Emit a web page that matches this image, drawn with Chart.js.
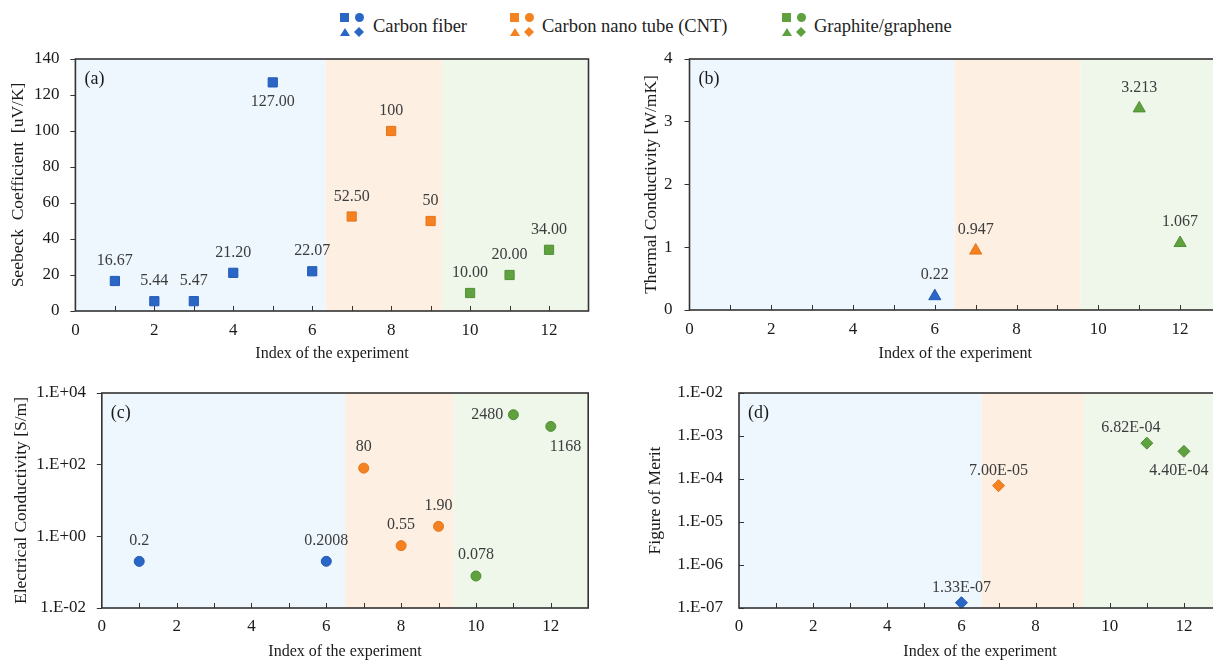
<!DOCTYPE html>
<html><head><meta charset="utf-8">
<script src="https://cdn.jsdelivr.net/npm/chart.js@4.4.0/dist/chart.umd.min.js"></script>
<style>
html,body{margin:0;padding:0;background:#fff;width:1213px;height:660px;overflow:hidden;position:relative;}
canvas{position:absolute;display:block;}
#legend{position:absolute;left:0;top:0;width:1213px;height:45px;font-family:"Liberation Serif",serif;font-size:18.5px;color:#222;}
.ic{position:absolute;width:9px;height:9px;}
.ci{border-radius:50%;}
.tr{width:10px;height:8px;clip-path:polygon(50% 0,100% 100%,0 100%);}
.di{width:10px;height:10px;clip-path:polygon(50% 0,100% 50%,50% 100%,0 50%);}
.lt{position:absolute;top:15px;line-height:22px;white-space:nowrap;}
</style>
</head><body>
<div id="legend"></div>
<canvas id="ca" width="600" height="320" style="left:0;top:45px;width:600px;height:320px"></canvas>
<canvas id="cb" width="630" height="320" style="left:600px;top:45px;width:630px;height:320px"></canvas>
<canvas id="cc" width="600" height="285" style="left:0;top:378px;width:600px;height:285px"></canvas>
<canvas id="cd" width="630" height="285" style="left:600px;top:378px;width:630px;height:285px"></canvas>
<script>
// ---------- data ----------
const groups = ["Carbon fiber", "Carbon nano tube (CNT)", "Graphite/graphene"];
const xTicks = [0, 2, 4, 6, 8, 10, 12];
const minorX = [1, 2, 3, 4, 5, 6, 7, 8, 9, 10, 11, 12];

// (a) Seebeck coefficient
const seebeckFiberX = [1, 2, 3, 4, 5, 6];
const seebeckFiber = [16.67, 5.44, 5.47, 21.20, 127.00, 22.07];
const seebeckFiberText = ["16.67", "5.44", "5.47", "21.20", "127.00", "22.07"];
const seebeckCntX = [7, 8, 9];
const seebeckCnt = [52.50, 100, 50];
const seebeckCntText = ["52.50", "100", "50"];
const seebeckGrX = [10, 11, 12];
const seebeckGr = [10.00, 20.00, 34.00];
const seebeckGrText = ["10.00", "20.00", "34.00"];
const seebeckTicks = [0, 20, 40, 60, 80, 100, 120, 140];
const seebeckRegions = [0, 6.34, 9.31, 13];

// (b) Thermal conductivity
const thermalFiberX = [6];
const thermalFiber = [0.22];
const thermalFiberText = ["0.22"];
const thermalCntX = [7];
const thermalCnt = [0.947];
const thermalCntText = ["0.947"];
const thermalGrX = [11, 12];
const thermalGr = [3.213, 1.067];
const thermalGrText = ["3.213", "1.067"];
const thermalTicks = [0, 1, 2, 3, 4];
const thermalRegions = [0, 6.48, 9.56, 13];

// (c) Electrical conductivity
const elecFiberX = [1, 6];
const elecFiber = [0.2, 0.2008];
const elecFiberText = ["0.2", "0.2008"];
const elecCntX = [7, 8, 9];
const elecCnt = [80, 0.55, 1.90];
const elecCntText = ["80", "0.55", "1.90"];
const elecGrX = [10, 11, 12];
const elecGr = [0.078, 2480, 1168];
const elecGrText = ["0.078", "2480", "1168"];
const elecTicks = [1e-2, 1e0, 1e2, 1e4];
const elecTickText = ["1.E-02", "1.E+00", "1.E+02", "1.E+04"];
const elecRegions = [0, 6.5, 9.4, 13];

// (d) Figure of merit
const meritFiberX = [6];
const meritFiber = [1.33e-7];
const meritFiberText = ["1.33E-07"];
const meritCntX = [7];
const meritCnt = [7.00e-5];
const meritCntText = ["7.00E-05"];
const meritGrX = [11, 12];
const meritGr = [6.82e-4, 4.40e-4];
const meritGrText = ["6.82E-04", "4.40E-04"];
const meritTicks = [1e-7, 1e-6, 1e-5, 1e-4, 1e-3, 1e-2];
const meritTickText = ["1.E-07", "1.E-06", "1.E-05", "1.E-04", "1.E-03", "1.E-02"];
const meritRegions = [0, 6.54, 9.31, 13];

// ---------- styles ----------
const SERIF = '"Liberation Serif", "Times New Roman", serif';
const FILL = ['#2A66C6', '#F58220', '#5FA03F'];
const EDGE = ['#2159B4', '#E8731A', '#528F35'];
const BG = ['#EEF7FD', '#FDEFE2', '#EEF7EA'];

// legend
(function () {
  const lg = document.getElementById('legend');
  const pos = [[340, 373], [510, 542], [782, 814]];
  groups.forEach((g, i) => {
    const [ix, tx] = pos[i];
    const shapes = [['sq', ix, 13], ['ci', ix + 15, 13], ['tr', ix, 28], ['di', ix + 14, 27]];
    shapes.forEach(([c, l, t]) => {
      const d = document.createElement('div');
      d.className = 'ic ' + c; d.style.left = l + 'px'; d.style.top = t + 'px'; d.style.background = FILL[i];
      lg.appendChild(d);
    });
    const s = document.createElement('div');
    s.className = 'lt'; s.style.left = tx + 'px'; s.textContent = g;
    lg.appendChild(s);
  });
})();

const panelPlugin = {
  id: 'panel',
  beforeDatasetsDraw(chart, args, o) {
    const { ctx, chartArea: { left, right, top, bottom }, scales: { x, y } } = chart;
    ctx.save();
    for (let i = 0; i < o.regions.length - 1; i++) {
      const x0 = x.getPixelForValue(o.regions[i]);
      const x1 = x.getPixelForValue(o.regions[i + 1]);
      ctx.fillStyle = BG[i];
      ctx.fillRect(x0, top, x1 - x0, bottom - top);
    }
    ctx.strokeStyle = '#333'; ctx.lineWidth = 1;
    ctx.beginPath();
    minorX.forEach(v => { const px = Math.round(x.getPixelForValue(v)) + 0.5; ctx.moveTo(px, bottom); ctx.lineTo(px, bottom - 5); });
    if (o.yInside) y.ticks.forEach(t => { const py = Math.round(y.getPixelForValue(t.value)) + 0.5; ctx.moveTo(left, py); ctx.lineTo(left + 5, py); });
    ctx.stroke();
    ctx.restore();
  },
  afterDatasetsDraw(chart, args, o) {
    const { ctx, chartArea: { left, right, top, bottom } } = chart;
    ctx.save();
    ctx.strokeStyle = '#333'; ctx.lineWidth = 1.6;
    ctx.strokeRect(left, top, right - left, bottom - top);
    ctx.font = '16px ' + SERIF;
    ctx.fillStyle = '#3c3c3c';
    ctx.textBaseline = 'middle';
    chart.data.datasets.forEach((ds, i) => {
      const meta = chart.getDatasetMeta(i);
      meta.data.forEach((pt, j) => {
        const s = ds.texts[j];
        const p = (ds.places && ds.places[j]) || 'above';
        let tx = pt.x, ty = pt.y, al = 'center';
        if (p === 'above') ty -= o.up;
        else if (p === 'below') ty += o.down;
        else if (p === 'left') { tx -= 10; al = 'right'; }
        else if (p === 'belowRight') { ty += o.down; al = 'left'; tx -= 1; }
        else if (p === 'aboveLeft') { ty -= o.up; tx -= 16; }
        else if (p === 'belowLeft') { ty += o.down; tx -= 5; }
        ctx.textAlign = al;
        ctx.fillText(s, tx, ty);
      });
    });
    ctx.fillStyle = '#1a1a1a';
    ctx.font = '18px ' + SERIF;
    ctx.textAlign = 'left';
    ctx.fillText(o.letter, left + 9, top + 20);
    ctx.restore();
  }
};

function makeDatasets(xs, ys, texts, places, style, radius) {
  return xs.map((xa, g) => ({
    label: groups[g],
    data: xa.map((xv, k) => ({ x: xv, y: ys[g][k] })),
    texts: texts[g],
    places: places[g],
    pointStyle: style,
    pointRadius: radius,
    backgroundColor: FILL[g],
    borderColor: EDGE[g],
    borderWidth: 1,
    showLine: false,
    clip: false
  }));
}

function makeChart(id, cfg) {
  const xAxis = {
    type: 'linear', min: 0, max: 13, position: 'bottom',
    afterBuildTicks: s => { s.ticks = xTicks.map(v => ({ value: v })); },
    afterFit: s => { s.height = cfg.xH; s.paddingLeft = 0; s.paddingRight = 0; },
    grid: { display: true, drawOnChartArea: false, drawTicks: false },
    border: { display: false },
    ticks: { font: { family: SERIF, size: 17 }, color: '#1a1a1a', padding: cfg.xPad, maxRotation: 0, autoSkip: false },
    title: { display: true, text: 'Index of the experiment', font: { family: SERIF, size: 16 }, color: '#1a1a1a', padding: { top: 0, bottom: cfg.xTitlePad } }
  };
  const yAxis = {
    type: cfg.yType, min: cfg.yMin, max: cfg.yMax, position: 'left',
    afterBuildTicks: s => { s.ticks = cfg.yTicks.map(v => ({ value: v })); },
    afterFit: s => { s.width = cfg.yW; s.paddingTop = 0; s.paddingBottom = 0; },
    grid: { display: true, drawOnChartArea: false, drawTicks: !cfg.yInside, tickLength: 5, color: '#333' },
    border: { display: false },
    ticks: {
      font: { family: SERIF, size: 17 }, color: '#1a1a1a', padding: cfg.yPad, autoSkip: false,
      callback: (v) => cfg.yTickText ? cfg.yTickText[cfg.yTicks.indexOf(v)] : String(v)
    },
    title: { display: true, text: cfg.yTitle, font: { family: SERIF, size: 17.5 }, color: '#1a1a1a', padding: { top: cfg.yTitlePad, bottom: 0 } }
  };
  return new Chart(document.getElementById(id), {
    type: 'scatter',
    data: { datasets: cfg.datasets },
    options: {
      responsive: false, animation: false, events: [], devicePixelRatio: 1,
      layout: { padding: { left: 0, right: cfg.padR, top: cfg.padT, bottom: 0 } },
      scales: { x: xAxis, y: yAxis },
      plugins: {
        legend: { display: false }, tooltip: { enabled: false },
        panel: { regions: cfg.regions, letter: cfg.letter, up: cfg.up, down: cfg.down, yInside: cfg.yInside }
      }
    },
    plugins: [panelPlugin]
  });
}

makeChart('ca', {
  datasets: makeDatasets([seebeckFiberX, seebeckCntX, seebeckGrX], [seebeckFiber, seebeckCnt, seebeckGr],
    [seebeckFiberText, seebeckCntText, seebeckGrText],
    [['above', 'above', 'above', 'above', 'below', 'above'], [], []], 'rect', 6.5),
  yType: 'linear', yMin: 0, yMax: 140, yTicks: seebeckTicks, yTitle: 'Seebeck  Coefficient  [uV/K]',
  regions: seebeckRegions, letter: '(a)', up: 20, down: 19,
  xH: 54, yW: 75.4, padR: 11.5, padT: 14, xPad: 9, yPad: 11, yTitlePad: 8, xTitlePad: 1.4
});
makeChart('cb', {
  datasets: makeDatasets([thermalFiberX, thermalCntX, thermalGrX], [thermalFiber, thermalCnt, thermalGr],
    [thermalFiberText, thermalCntText, thermalGrText], [[], [], []], 'triangle', 7),
  yType: 'linear', yMin: 0, yMax: 4, yTicks: thermalTicks, yTitle: 'Thermal Conductivity [W/mK]',
  regions: thermalRegions, letter: '(b)', up: 21, down: 19,
  xH: 55, yW: 89.5, padR: 9, padT: 14, xPad: 9, yPad: 12, yTitlePad: 40.5, xTitlePad: 1.4
});
makeChart('cc', {
  datasets: makeDatasets([elecFiberX, elecCntX, elecGrX], [elecFiber, elecCnt, elecGr],
    [elecFiberText, elecCntText, elecGrText], [[], [], ['above', 'left', 'belowRight']], 'circle', 5),
  yType: 'logarithmic', yMin: 1e-2, yMax: 1e4, yTicks: elecTicks, yTickText: elecTickText, yTitle: 'Electrical Conductivity [S/m]',
  regions: elecRegions, letter: '(c)', up: 21, down: 20,
  xH: 55, yW: 101.8, padR: 11.8, padT: 15, xPad: 8.5, yPad: 10.8, yTitlePad: 10.5, xTitlePad: 1.7
});
makeChart('cd', {
  datasets: makeDatasets([meritFiberX, meritCntX, meritGrX], [meritFiber, meritCnt, meritGr],
    [meritFiberText, meritCntText, meritGrText], [['above'], ['above'], ['aboveLeft', 'belowLeft']], 'rectRot', 6),
  yType: 'logarithmic', yMin: 1e-7, yMax: 1e-2, yTicks: meritTicks, yTickText: meritTickText, yTitle: 'Figure of Merit',
  regions: meritRegions, letter: '(d)', up: 15, down: 19, yInside: true,
  xH: 55, yW: 139, padR: 9, padT: 15, xPad: 8.5, yPad: 16, yTitlePad: 44.5, xTitlePad: 1.7
});
</script>
</body></html>
